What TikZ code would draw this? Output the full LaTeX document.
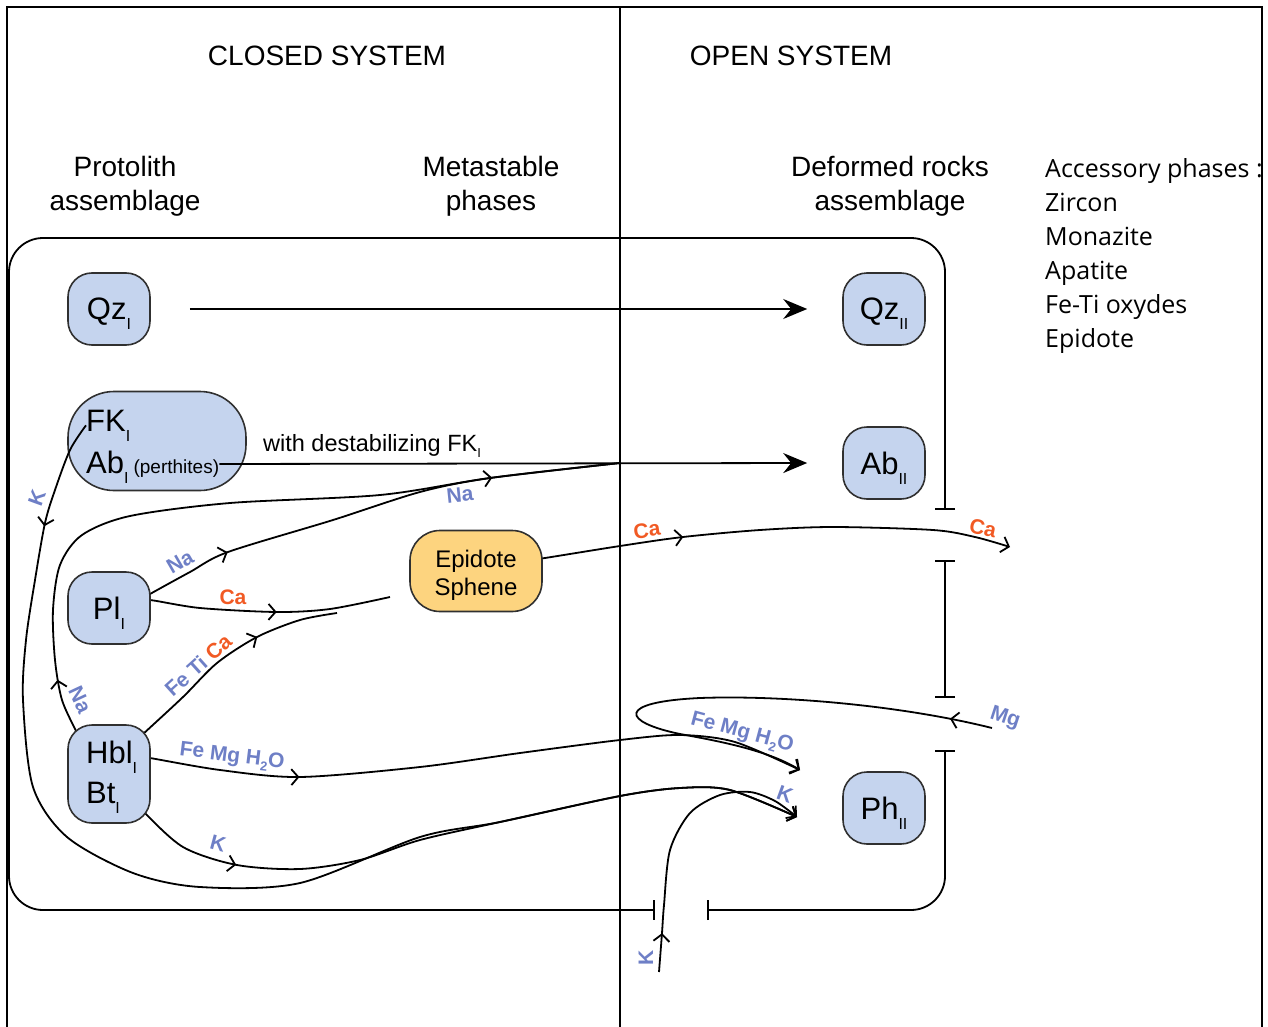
\documentclass[tikz,border=0pt]{standalone}
\usepackage{fontspec}
\setmainfont{Liberation Sans}
\newfontfamily\accfont{Open Sans}
\usetikzlibrary{arrows.meta,decorations.markings,calc}
\pgfdeclarelayer{bg}
\pgfsetlayers{bg,main}
\definecolor{nodeblue}{HTML}{C5D4EE}
\definecolor{epiyel}{HTML}{FDD47F}
\definecolor{elblue}{HTML}{6E7FC6}
\definecolor{elorange}{HTML}{F15A24}
\definecolor{edgegray}{HTML}{303030}
\newcommand\sbI[1]{\raisebox{-10pt}{\fontsize{16}{16}\selectfont #1}}
\newcommand\sbS[1]{\raisebox{-6pt}{\fontsize{13}{13}\selectfont #1}}
\newcommand\sbH[1]{\raisebox{-5pt}{\fontsize{13}{13}\selectfont #1}}
\begin{document}
\begin{tikzpicture}[x=1pt,y=-1pt,
  >={Straight Barb[length=7pt,width=16pt]},
  mineral/.style={draw=edgegray, line width=1.6pt, fill=nodeblue, rounded corners=24pt,
    minimum width=82pt, minimum height=72pt, inner sep=0pt, text depth=0pt,
    font=\fontsize{31}{40}\selectfont},
  txt/.style={inner sep=0pt, font=\fontsize{31}{40}\selectfont},
  conn/.style={line width=1.8pt},
  midarr/.style={postaction={decorate, decoration={markings, mark=at position #1 with {\arrow{>}}}}},
  bigtip/.style={-{Stealth[length=24pt,width=20pt,inset=8pt]}},
  boxst/.style={line width=1.8pt, rounded corners=34pt, {Bar[width=20pt]}-{Bar[width=20pt]}},
  head/.style={font=\fontsize{28}{34}\selectfont, align=center, inner sep=0pt},
  lbl/.style={font=\bfseries\fontsize{21}{21}\selectfont, text=elblue, inner sep=0pt},
  lblo/.style={lbl, text=elorange}
]
\useasboundingbox (0,0) rectangle (1268,1027);

% frame
\draw[line width=2pt] (7,1027) -- (7,7) -- (1262,7) -- (1262,1027);
\draw[line width=1.8pt] (620,7) -- (620,1027);

% headings
\node[head] (closed) at (327,56) {CLOSED SYSTEM};
\node[head] (open) at (791,56) {OPEN SYSTEM};
\node[head] (proto) at (125,186) {Protolith\\assemblage};
\node[head] (meta) at (491,186) {Metastable\\phases};
\node[head] (defo) at (890,186) {Deformed rocks\\assemblage};
\node[anchor=north west, align=left, inner sep=0pt, font=\accfont\fontsize{25}{34}\selectfont] (acc) at (1045,158)
  {Accessory phases :\\Zircon\\Monazite\\Apatite\\Fe-Ti oxydes\\Epidote};

% system box with gaps
\draw[boxst] (655,910) -- (9,910) -- (9,238) -- (945,238) -- (945,510);
\draw[boxst] (945,560) -- (945,698);
\draw[boxst] (945,750) -- (945,910) -- (707,910);

% free ends
\coordinate (namerge) at (620,463);
\coordinate (caend) at (390,597);
\coordinate (fetiend) at (337,613);
\coordinate (fmtip) at (800,770);
\coordinate (mgstart) at (992,728);
\coordinate (catip) at (1010,547);
\coordinate (ktip) at (797,817);
\coordinate (kstart) at (659,972);

% nodes
\node[mineral] (qzI) at (109,309) {Qz\sbI{I}};
\node[mineral] (qzII) at (884,309) {Qz\sbI{II}};
\node[mineral, minimum width=178pt, minimum height=99pt, rounded corners=46pt] (fkab) at (157,441) {};
\node[txt, anchor=base west] (fk) at (86,431) {FK\sbI{I}};
\node[txt, anchor=base west] (ab) at (86,473) {Ab\sbI{I}\hspace{5pt}{\fontsize{19}{19}\selectfont(perthites)}};
\node[mineral] (abII) at (884,463) {Ab\sbI{II}};
\node[mineral] (pl) at (109,608) {Pl\sbI{I}};
\node[mineral, minimum height=98pt] (hb) at (109,774) {};
\node[txt, anchor=north west, align=left] (hbt) at (86,741) {Hbl\sbI{I}\\Bt\sbI{I}};
\node[mineral] (ph) at (884,808) {Ph\sbI{II}};
\node[mineral, fill=epiyel, minimum width=132pt, minimum height=81pt, rounded corners=30pt] (ep) at (476,571) {};
\node[anchor=north, align=center, inner sep=0pt, font=\fontsize{24}{28}\selectfont] (ept) at (476,550) {Epidote\\Sphene};

% connectors behind nodes
\begin{pgfonlayer}{bg}
\draw[conn, bigtip, shorten <=39pt, shorten >=35pt] (qzI.east) -- (qzII.west);
\draw[conn, midarr=70pt, midarr=640pt] plot[smooth] coordinates {($(hb.center)+(-27,-29)$) (77,733) (62,700) (55,660) (53,610) (60,565) (82,535) (130,516) (230,503) (380,495) (490,478) (namerge)};
\draw[conn, midarr=100pt] plot[smooth] coordinates {($(pl.center)+(31,-8)$) (150,594) (190,572) (228,552) (333,520) (420,492) (490,478) (namerge)};
\draw[conn, midarr=138pt] plot[smooth] coordinates {($(pl.center)+(31,-6)$) (150,600) (200,608) (277,612) (330,609) (caend)};
\draw[conn, midarr=162pt] plot[smooth] coordinates {($(hb.center)+(26,-32)$) (142,735) (183,697) (217,663) (257,637) (300,620) (fetiend)};
\draw[conn, midarr=161pt, ->] plot[smooth] coordinates {($(hb.center)+(31,-17)$) (150,758) (220,770) (300,777) (420,767) (520,753) (620,740) (680,735) (735,742) (fmtip)};
\draw[conn, midarr=43pt, ->] (mgstart) .. controls (900,705) and (780,695) .. (700,698) .. controls (615,702) and (622,722) .. (680,734) .. controls (730,743) and (770,752) .. (fmtip);
\draw[conn, midarr=155pt, ->] plot[smooth] coordinates {($(ep.center)+(54,-11)$) (545,558) (620,546) (683,537) (760,530) (833,527) (933,530) (975,537) (catip)};
\draw[conn, midarr=124pt, ->] plot[smooth] coordinates {($(hb.center)+(26,26)$) (142,810) (183,847) (237,865) (300,869) (360,860) (420,840) (500,822) (620,796) (680,788) (730,790) (ktip)};
\draw[conn, midarr=39pt, ->] plot[smooth] coordinates {(kstart) (662,933) (664,905) (670,850) (690,813) (720,795) (750,792) (775,801) (ktip)};
\end{pgfonlayer}

% connectors over nodes
\draw[conn, bigtip] ([yshift=9pt]ab.base east) -- ([xshift=-35pt]abII.west);
\draw[conn, midarr=110pt, ->] plot[smooth] coordinates {(fk.west) (70,450) (55,490) (45,523) (35,580) (26,640) (23,700) (33,787) (67,837) (133,873) (200,887) (300,883) (420,837) (500,822) (620,796) (680,788) (730,790) (ktip)};

% labels
\node[anchor=base west, inner sep=0pt, font=\fontsize{23.5}{24}\selectfont] (destab) at (263,451) {with destabilizing FK\sbS{I}};
\node[lbl, rotate=70] (lk1) at (37,498) {K};
\node[lbl, rotate=30] (lna1) at (180,562) {Na};
\node[lblo] (lca1) at (233,597) {Ca};
\node[lbl, rotate=42] (lfeti) at (198,665) {Fe Ti \textcolor{elorange}{Ca}};
\node[lbl, rotate=-65] (lna2) at (80,700) {Na};
\node[lbl, rotate=-7] (lfm1) at (232,757) {Fe Mg H\sbH{2}O};
\node[lbl, rotate=-15] (lk2) at (218,843) {K};
\node[lbl, rotate=6] (lna3) at (460,495) {Na};
\node[lblo, rotate=8] (lca2) at (647,530) {Ca};
\node[lblo, rotate=-12] (lca3) at (983,528) {Ca};
\node[lbl, rotate=-15] (lfm2) at (742,733) {Fe Mg H\sbH{2}O};
\node[lbl, rotate=-18] (lmg) at (1005,718) {Mg};
\node[lbl, rotate=-20] (lk3) at (785,794) {K};
\node[lbl, rotate=90] (lk4) at (646,958) {K};
\end{tikzpicture}
\end{document}
